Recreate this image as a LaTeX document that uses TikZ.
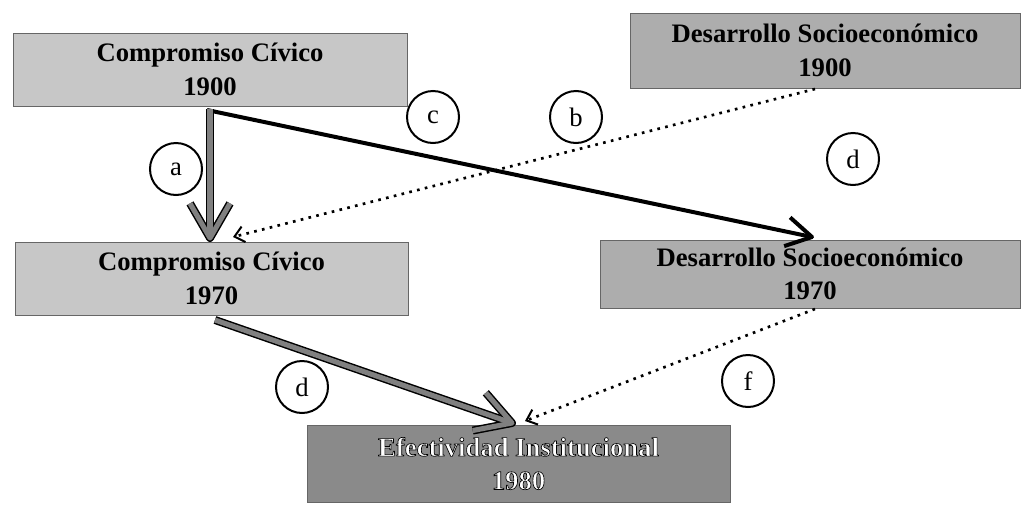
\documentclass[tikz,border=0pt]{standalone}
\usepackage{fontspec}
\setmainfont{Liberation Serif}
\usetikzlibrary{calc,arrows.meta}
\newcommand\outlinedtext[1]{\special{pdf:literal direct 2 Tr 0.5 w 0 G}#1\special{pdf:literal direct 0 Tr}}
\begin{document}
\begin{tikzpicture}[x=0.75pt,y=-0.75pt,
  boxbase/.style={draw=black!60, line width=0.6pt, align=center, inner sep=0pt,
    font=\bfseries\fontsize{20}{25}\selectfont},
  boxlight/.style={boxbase, fill=black!22},
  boxmid/.style={boxbase, fill=black!32},
  boxdark/.style={boxbase, fill=black!46, text=white},
  lbl/.style={circle, draw=black, line width=1.5pt, minimum size=39pt, inner sep=0pt,
    font=\fontsize{20}{20}\selectfont},
  fatout/.style={draw=black, line width=6pt, line join=round, line cap=butt},
  fatin/.style={draw=black!50, line width=3.8pt, line join=round, line cap=butt},
  thinarrow/.style={draw=black, line width=3pt, line join=round},
  dotarrow/.style={draw=black, line width=2pt, dash pattern=on 2pt off 4pt,
    -{Straight Barb[length=7pt,width=12pt,line width=1.5pt]}}
]
\useasboundingbox (0,0) rectangle (1025,504);

% boxes
\node[boxlight, minimum width=295.5pt, minimum height=54.75pt] (cc1) at (210,69.5) {Compromiso Cívico\\1900};
\node[boxmid, minimum width=292.5pt, minimum height=56.25pt] (ds1) at (825,50.5) {Desarrollo Socioeconómico\\1900};
\node[boxlight, minimum width=294.75pt, minimum height=54.75pt] (cc2) at (211.5,278.5) {Compromiso Cívico\\1970};
\node[boxmid, minimum width=315pt, minimum height=51pt] (ds2) at (810,274) {Desarrollo Socioeconómico\\1970};
\node[boxdark, minimum width=317.25pt, minimum height=57.75pt] (ei) at (518.5,463.5) {\outlinedtext{Efectividad Institucional}\\\outlinedtext{1980}};

% connector end points
\coordinate (aS) at (210,109);
\coordinate (aT) at (210,238);
\coordinate (cS) at (207,110);
\coordinate (cT) at (812,237);
\coordinate (bS) at (815,89);
\coordinate (bT) at (233,237);
\coordinate (dS) at (215,320);
\coordinate (dT) at (512,423);
\coordinate (fS) at (815,309);
\coordinate (fT) at (525,421);

\coordinate (aW1) at ($(aT)!30pt!30:(aS)$);
\coordinate (aW2) at ($(aT)!30pt!-30:(aS)$);
\coordinate (dW1) at ($(dT)!30pt!30:(dS)$);
\coordinate (dW2) at ($(dT)!30pt!-30:(dS)$);
\coordinate (cW1) at ($(cT)!22pt!30:(cS)$);
\coordinate (cW2) at ($(cT)!22pt!-30:(cS)$);

% c arrow
\draw[thinarrow] (cS) -- (cT);
\draw[thinarrow] (cW1) -- (cT) -- (cW2);

% dotted arrows
\draw[dotarrow] (bS) -- (bT);
\draw[dotarrow] (fS) -- (fT);

% fat arrows
\draw[fatout] (aS) -- (aT);
\draw[fatout] (aW1) -- (aT) -- (aW2);
\draw[fatin] (aS) -- (aT);
\draw[fatin] (aW1) -- (aT) -- (aW2);
\draw[fatout] (dS) -- (dT);
\draw[fatout] (dW1) -- (dT) -- (dW2);
\draw[fatin] (dS) -- (dT);
\draw[fatin] (dW1) -- (dT) -- (dW2);

% labels
\node[lbl] (la) at (176,169) {a};
\node[lbl] (lc) at (433,117) {c};
\node[lbl] (lb) at (576,117) {b};
\node[lbl] (ld1) at (853,159) {d};
\node[lbl] (ld2) at (302,387) {d};
\node[lbl] (lf) at (748,381) {f};
\end{tikzpicture}
\end{document}
